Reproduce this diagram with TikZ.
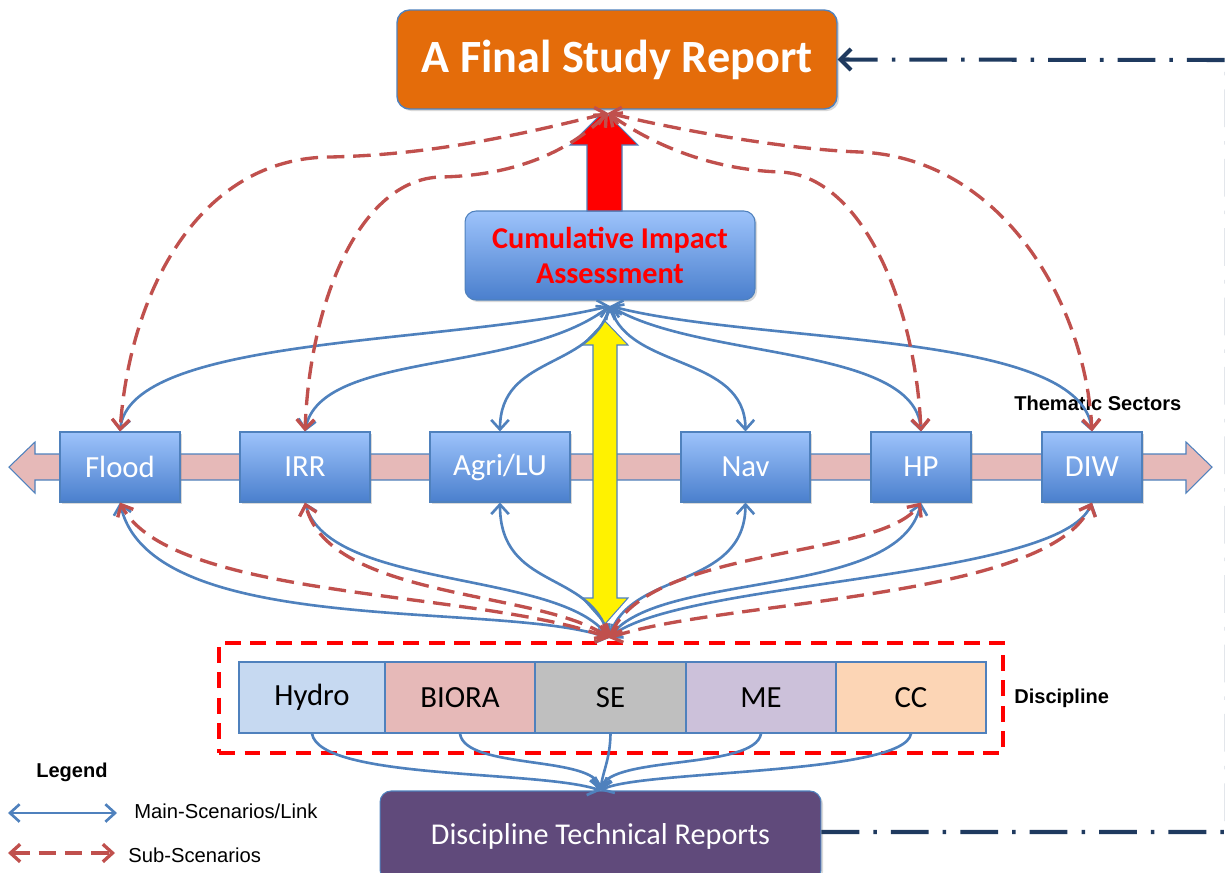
\documentclass[tikz,border=0pt]{standalone}
\usepackage{fontspec}
\setmainfont{Carlito}
\newfontfamily\arialf{Liberation Sans}
\usetikzlibrary{arrows.meta,shadows,calc}
\definecolor{lblue}{HTML}{4F81BD}
\definecolor{dred}{HTML}{C0504D}
\definecolor{orangec}{HTML}{E46C0A}
\definecolor{gtop}{HTML}{9DC3FB}
\definecolor{gbot}{HTML}{4A7FCD}
\definecolor{pinkc}{HTML}{E6B9B8}
\definecolor{hydroc}{HTML}{C6D9F1}
\definecolor{biorac}{HTML}{E6B9B8}
\definecolor{sec}{HTML}{BFBFBF}
\definecolor{mec}{HTML}{CCC1DA}
\definecolor{ccc}{HTML}{FCD5B5}
\definecolor{purplec}{HTML}{604A7B}
\definecolor{navyc}{HTML}{1F3A5F}
\begin{document}
\begin{tikzpicture}[x=0.02cm,y=-0.02cm,
  shad/.style={drop shadow={opacity=0.3,shadow xshift=1.2pt,shadow yshift=-1.2pt}},
  finalbox/.style={rectangle,rounded corners=0.25cm,draw=lblue,line width=0.8pt,fill=orangec,
    text=white,font=\fontsize{26.3}{30}\selectfont\bfseries,minimum width=8.8cm,minimum height=1.98cm,inner sep=0pt,shad},
  ciabox/.style={rectangle,rounded corners=0.22cm,draw=lblue,line width=0.6pt,top color=gtop,bottom color=gbot,
    text=red,font=\fontsize{17.2}{20.4}\selectfont\bfseries,align=center,minimum width=5.8cm,minimum height=1.78cm,inner sep=0pt,shad},
  thema/.style={rectangle,draw=lblue,line width=0.6pt,top color=gtop,bottom color=gbot,
    text=white,font=\fontsize{17.5}{20}\selectfont,minimum height=1.4cm,inner sep=0pt,shad},
  disc/.style={rectangle,draw=lblue,line width=0.7pt,text=black,font=\fontsize{17.5}{20}\selectfont,
    minimum height=1.42cm,inner sep=0pt},
  dtrbox/.style={rectangle,rounded corners=0.22cm,draw=lblue,line width=0.6pt,fill=purplec,
    text=white,font=\fontsize{17.2}{20}\selectfont,minimum width=8.82cm,minimum height=1.8cm,inner sep=0pt,shad},
  blink/.style={draw=lblue,line width=1.5pt,{Straight Barb[length=5.5pt,width=10pt]}-{Straight Barb[length=5.5pt,width=10pt]}},
  bone/.style={draw=lblue,line width=1.5pt,-{Straight Barb[length=5.5pt,width=10pt]}},
  subs/.style={draw=dred,line width=1.9pt,dash pattern=on 10pt off 5pt,
    {Straight Barb[length=5.5pt,width=10pt]}-{Straight Barb[length=5.5pt,width=10pt]}},
  legt/.style={font=\arialf\fontsize{11.5}{13}\selectfont,inner sep=0pt,anchor=west},
  legb/.style={font=\arialf\fontsize{11.4}{13}\selectfont\bfseries,inner sep=0pt,anchor=west},
  navyline/.style={draw=navyc,line width=2.3pt,dash pattern=on 21.5pt off 8pt on 2pt off 8pt,
    -{Straight Barb[length=6pt,width=12pt]}}
]
\useasboundingbox (0,0) rectangle (1225,873);

% thematic band (double arrow)
\draw[draw=lblue,fill=pinkc,line width=0.6pt] (9,467) -- (35,442) -- (35,454) -- (1186,454) -- (1186,442)
  -- (1212,467) -- (1186,493) -- (1186,480) -- (35,480) -- (35,493) -- cycle;

% main nodes
\node[finalbox] (final) at (617,59.5) {A Final Study Report};
\node[ciabox] (cia) at (610,255.5) {Cumulative Impact\\Assessment};

\node[thema,minimum width=2.4cm] (flood) at (120,467) {Flood};
\node[thema,minimum width=2.6cm] (irr) at (305,467) {IRR};
\node[thema,minimum width=2.8cm] (agri) at (500,467) {Agri/LU};
\node[thema,minimum width=2.58cm] (nav) at (745.5,467) {Nav};
\node[thema,minimum width=2.0cm] (hp) at (921,467) {HP};
\node[thema,minimum width=2.0cm] (diw) at (1092,467) {DIW};

\node[draw=red,line width=2.3pt,dash pattern=on 9pt off 5.5pt,minimum width=15.68cm,minimum height=2.2cm,inner sep=0pt] (dbox) at (611,698) {};
\node[disc,fill=hydroc,minimum width=2.92cm] (hydro) at (312,697.5) {Hydro};
\node[disc,fill=biorac,minimum width=3.0cm] (biora) at (460,697.5) {BIORA};
\node[disc,fill=sec,minimum width=3.02cm] (se) at (610.5,697.5) {SE};
\node[disc,fill=mec,minimum width=3.0cm] (me) at (761,697.5) {ME};
\node[disc,fill=ccc,minimum width=3.0cm] (cc) at (911,697.5) {CC};

\node[dtrbox] (dtr) at (600.5,836) {Discipline Technical Reports};

% labels
\node[legb] (thm) at (1014,403) {Thematic Sectors};
\node[legb] (dsc) at (1014,698) {Discipline};
\node[legb] (leg) at (36,772) {Legend};

% big arrows
\draw[draw=lblue,fill=red,line width=0.6pt] (587,211) -- (587,145) -- (570,145) -- (604,111) -- (638,145)
  -- (622,145) -- (622,211) -- cycle;
\draw[draw=lblue,fill=yellow,line width=0.6pt] (593,598) -- (582,598) -- (605,624) -- (628,598) -- (617,598)
  -- (617,345) -- (628,345) -- (605,321) -- (582,345) -- (593,345) -- cycle;

% hubs
\coordinate (th) at (610,306);
\coordinate (bh) at (609,638);
\coordinate (fr) at (608,113);

% blue main links (top)
\draw[blink] (th) .. controls (450,345) and (130,335) .. (flood.north);
\draw[blink] (th) .. controls (520,375) and (320,350) .. (irr.north);
\draw[blink] (th) .. controls (590,370) and (500,355) .. (agri.north);
\draw[blink] (th) .. controls (630,370) and (745,355) .. (nav.north);
\draw[blink] (th) .. controls (700,360) and (915,345) .. (hp.north);
\draw[blink] (th) .. controls (760,345) and (1080,330) .. (diw.north);

% blue main links (bottom)
\draw[blink] (bh) .. controls (500,600) and (150,640) .. (flood.south);
\draw[blink] (bh) .. controls (560,570) and (330,590) .. (irr.south);
\draw[blink] (bh) .. controls (590,570) and (500,590) .. (agri.south);
\draw[blink] (bh) .. controls (630,570) and (745,590) .. (nav.south);
\draw[blink] (bh) .. controls (660,570) and (900,600) .. (hp.south);
\draw[blink] (bh) .. controls (680,580) and (1060,580) .. (diw.south);

% red sub-scenario links (top)
\draw[subs] (fr) .. controls (500,140) and (420,155) .. (330,157) .. controls (200,158) and (130,290) .. (flood.north);
\draw[subs] (fr) .. controls (560,160) and (500,176) .. (440,177) .. controls (360,180) and (310,300) .. (irr.north);
\draw[subs] (fr) .. controls (660,150) and (720,170) .. (780,172) .. controls (860,175) and (915,300) .. (hp.north);
\draw[subs] (fr) .. controls (700,135) and (800,150) .. (860,152) .. controls (1000,158) and (1085,300) .. (diw.north);

% red sub-scenario links (bottom)
\draw[subs] (bh) .. controls (480,590) and (170,600) .. (flood.south);
\draw[subs] (bh) .. controls (540,590) and (330,600) .. (irr.south);
\draw[subs] (bh) .. controls (650,545) and (880,560) .. (hp.south);
\draw[subs] (bh) .. controls (720,600) and (1050,600) .. (diw.south);

% discipline to reports
\draw[bone] (hydro.south) .. controls (320,780) and (540,770) .. (dtr.north);
\draw[bone] (biora.south) .. controls (465,770) and (595,755) .. (dtr.north);
\draw[bone] (se.south) .. controls (610,760) and (603,770) .. (dtr.north);
\draw[bone] (me.south) .. controls (755,770) and (610,755) .. (dtr.north);
\draw[bone] (cc.south) .. controls (905,775) and (640,770) .. (dtr.north);

% reports feed the final report
\coordinate (c1) at (1227,832);
\coordinate (c2) at (1227,60);
\draw[navyline] ($(dtr.east)+(0,-4)$) -- (c1) -- (c2) -- (final.east);

% legend
\coordinate (l1a) at (8,813);
\coordinate (l1b) at (117,813);
\coordinate (l2a) at (8,853);
\coordinate (l2b) at (115,853);
\draw[blink] (l1a) -- (l1b);
\draw[subs] (l2a) -- (l2b);
\node[legt] (lt1) at (134,811) {Main-Scenarios/Link};
\node[legt] (lt2) at (128,855) {Sub-Scenarios};
\end{tikzpicture}
\end{document}
